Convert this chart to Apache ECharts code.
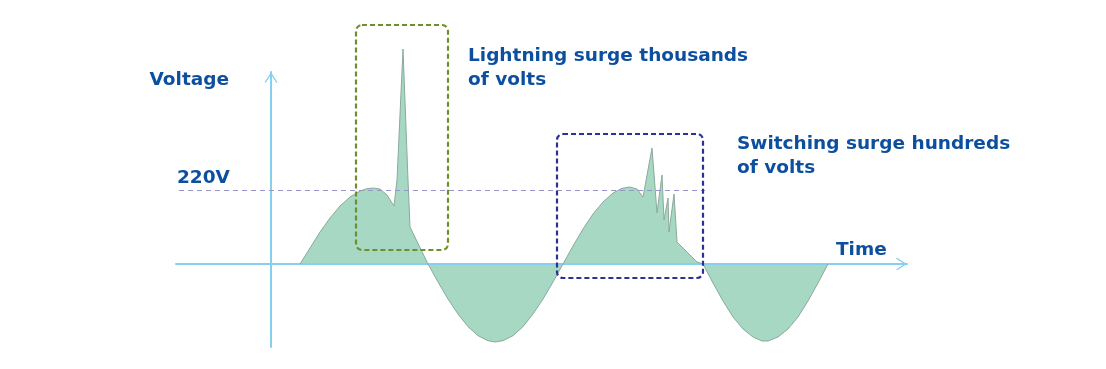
<!DOCTYPE html>
<html>
<head>
<meta charset="utf-8">
<script src="https://cdn.jsdelivr.net/npm/echarts@6/dist/echarts.min.js"></script>
<style>
html,body{margin:0;padding:0;background:#fff;}
#chart{width:1106px;height:369px;}
</style>
</head>
<body>
<div id="chart"></div>
<script>
// Time (arbitrary units, 0 = voltage axis) and voltage samples
const times = [29,39,49,59,69,79,89,96,102,109,116,123,126,132,137,139,157,
  167,177,187,197,207,217,224,232,242,252,262,272,282,292,
  302,312,322,332,342,351,359,366,372,381,386,391,393,397,398,403,406,426,432,
  442,452,462,472,482,491,497,507,517,527,537,547,557];
const volts = [0,48,96,138,174,201,219,226,228,225,207,174,252,645,252,111,0,
  -54,-105,-150,-188,-215,-230,-234,-230,-215,-188,-150,-105,-54,0,
  54,105,150,186,213,227,231,225,201,348,153,267,132,198,96,210,66,6,0,
  -57,-111,-159,-195,-219,-231,-231,-219,-195,-159,-111,-57,0];

const timeRange = [-95, 636];
const voltRange = [-249, 576];
const refVoltage = 220;
const refLineTimes = [-92, 434];

// annotation boxes: [t0, t1, v0, v1]
const lightningBox = [85, 177, 42, 717];
const switchingBox = [286, 432, -42, 390];

const axisNames = ['Time', 'Voltage'];
const annotations = ['Lightning surge thousands\nof volts', 'Switching surge hundreds\nof volts'];

const TEXT = '#0d4f9f';
const FONT = "'DejaVu Sans', sans-serif";
const FS = 18.5;
const AXIS = '#87cfee';
const chevron = 'path://M0,80 L50,0 L100,80 L93,88 L50,20 L7,88 Z';

const chart = echarts.init(document.getElementById('chart'), null, {renderer: 'canvas'});

const axisLine = {
  onZero: true,
  lineStyle: {color: AXIS, width: 2},
  symbol: ['none', chevron],
  symbolSize: [13, 11],
  symbolOffset: [0, -5.5]
};

chart.setOption({
  animation: false,
  grid: {left: 176, right: 199, top: 72, bottom: 22},
  xAxis: {
    type: 'value', min: timeRange[0], max: timeRange[1], z: 3,
    axisLine: axisLine,
    axisTick: {show: false}, axisLabel: {show: false}, splitLine: {show: false},
    name: axisNames[0], nameLocation: 'end', nameGap: -71,
    nameTextStyle: {color: TEXT, fontFamily: FONT, fontWeight: 'bold', fontSize: FS,
      align: 'left', verticalAlign: 'bottom', lineHeight: 18, padding: [0, 0, 5, 0]}
  },
  yAxis: {
    type: 'value', min: voltRange[0], max: voltRange[1], z: 3,
    axisLine: axisLine,
    axisTick: {show: false}, axisLabel: {show: false}, splitLine: {show: false},
    name: axisNames[1], nameLocation: 'end', nameGap: -8,
    nameTextStyle: {color: TEXT, fontFamily: FONT, fontWeight: 'bold', fontSize: FS,
      align: 'right', verticalAlign: 'middle', lineHeight: 18, padding: [0, 42, 0, 0]}
  },
  series: [{
    type: 'line',
    data: times.map((t, i) => [t, volts[i]]),
    showSymbol: false,
    smooth: false,
    clip: false,
    lineStyle: {color: '#8aa99b', width: 1},
    areaStyle: {color: '#a6d8c3', opacity: 1},
    markLine: {
      silent: true,
      symbol: ['none', 'none'],
      lineStyle: {color: '#9696c8', width: 1.2, type: [5, 4]},
      label: {
        show: true, position: 'insideStartTop', distance: [-2, 3],
        formatter: refVoltage + 'V',
        color: TEXT, fontFamily: FONT, fontWeight: 'bold', fontSize: FS, lineHeight: 18
      },
      data: [[{coord: [refLineTimes[0], refVoltage]}, {coord: [refLineTimes[1], refVoltage]}]]
    }
  }]
});

function boxRect(b, color) {
  const p0 = chart.convertToPixel({gridIndex: 0}, [b[0], b[3]]);
  const p1 = chart.convertToPixel({gridIndex: 0}, [b[1], b[2]]);
  return {
    type: 'rect', z: 10, silent: true,
    shape: {x: p0[0], y: p0[1], width: p1[0] - p0[0], height: p1[1] - p0[1], r: 6},
    style: {fill: 'none', stroke: color, lineWidth: 2.2, lineDash: [5, 3]}
  };
}

function note(text, x, y) {
  return {
    type: 'text', z: 10, silent: true, x: x, y: y,
    style: {text: text, fill: TEXT, font: 'bold ' + FS + 'px ' + FONT, lineHeight: 24,
      textAlign: 'left', textVerticalAlign: 'top'}
  };
}

chart.setOption({
  graphic: [
    boxRect(lightningBox, '#6f8f2c'),
    boxRect(switchingBox, '#2d3192'),
    note(annotations[0], 468, 44),
    note(annotations[1], 737, 132)
  ]
});
</script>
</body>
</html>
